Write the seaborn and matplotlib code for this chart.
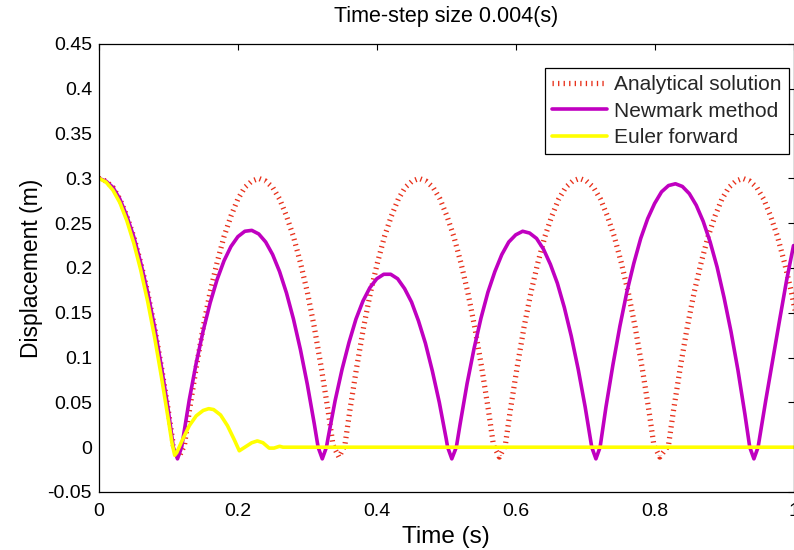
import matplotlib
matplotlib.use("Agg")
import matplotlib.pyplot as plt
import seaborn as sns
import pandas as pd

# ---------------- data ----------------
title = "Time-step size 0.004(s)"
x_label = "Time (s)"
y_label = "Displacement (m)"
series_names = ["Analytical solution", "Newmark method", "Euler forward"]

x_ticks = [0, 0.2, 0.4, 0.6, 0.8, 1.0]
x_tick_labels = ["0", "0.2", "0.4", "0.6", "0.8", "1"]
y_ticks = [-0.05, 0, 0.05, 0.1, 0.15, 0.2, 0.25, 0.3, 0.35, 0.4, 0.45]
y_tick_labels = ["-0.05", "0", "0.05", "0.1", "0.15", "0.2", "0.25", "0.3", "0.35", "0.4", "0.45"]

# Analytical solution (red dotted)
t_analytical = [
    0.000, 0.010, 0.020, 0.030, 0.040, 0.050, 0.060, 0.070, 0.080, 0.090, 0.100, 0.107, 0.115,
    0.123, 0.130, 0.140, 0.150, 0.160, 0.170, 0.180, 0.190, 0.200, 0.210, 0.220, 0.230,
    0.240, 0.250, 0.260, 0.270, 0.280, 0.290, 0.300, 0.310, 0.320, 0.330, 0.337, 0.3455,
    0.354, 0.361, 0.371, 0.381, 0.391, 0.401, 0.411, 0.421, 0.431, 0.441, 0.451, 0.461,
    0.471, 0.481, 0.491, 0.501, 0.511, 0.521, 0.531, 0.541, 0.551, 0.561, 0.568, 0.5765,
    0.585, 0.592, 0.602, 0.612, 0.622, 0.632, 0.642, 0.652, 0.662, 0.672, 0.682, 0.692,
    0.702, 0.712, 0.722, 0.732, 0.742, 0.752, 0.762, 0.772, 0.782, 0.792, 0.799, 0.8075,
    0.820, 0.827, 0.837, 0.847, 0.857, 0.867, 0.877, 0.887, 0.897, 0.907, 0.917, 0.927,
    0.937, 0.947, 0.957, 0.967, 0.977, 0.987, 0.997, 1.007,
]
y_analytical = [
    0.300, 0.297, 0.290, 0.277, 0.258, 0.235, 0.206, 0.173, 0.134, 0.089, 0.040, 0.002, -0.011,
    0.002, 0.040, 0.089, 0.134, 0.173, 0.206, 0.235, 0.258, 0.277, 0.290, 0.297, 0.300,
    0.297, 0.290, 0.277, 0.258, 0.235, 0.206, 0.173, 0.134, 0.089, 0.040, 0.002, -0.011,
    0.002, 0.040, 0.089, 0.134, 0.173, 0.206, 0.235, 0.258, 0.277, 0.290, 0.297, 0.300,
    0.297, 0.290, 0.277, 0.258, 0.235, 0.206, 0.173, 0.134, 0.089, 0.040, 0.002, -0.011,
    0.002, 0.040, 0.089, 0.134, 0.173, 0.206, 0.235, 0.258, 0.277, 0.290, 0.297, 0.300,
    0.297, 0.290, 0.277, 0.258, 0.235, 0.206, 0.173, 0.134, 0.089, 0.040, 0.002, -0.011,
    0.002, 0.040, 0.089, 0.134, 0.173, 0.206, 0.235, 0.258, 0.277, 0.290, 0.297, 0.300,
    0.297, 0.290, 0.277, 0.258, 0.235, 0.206, 0.173, 0.134,
]

# Newmark method (magenta solid)
t_newmark = [
    0.000, 0.010, 0.020, 0.030, 0.040, 0.050, 0.060, 0.070, 0.080, 0.090, 0.100, 0.107, 0.113,
    0.119, 0.130, 0.140, 0.150, 0.160, 0.170, 0.180, 0.190, 0.200, 0.210, 0.220, 0.230,
    0.240, 0.250, 0.260, 0.270, 0.280, 0.290, 0.300, 0.310, 0.3155, 0.3215,
    0.3275, 0.330, 0.340, 0.350, 0.360, 0.370, 0.380, 0.390, 0.400, 0.410, 0.420, 0.430,
    0.440, 0.450, 0.460, 0.470, 0.480, 0.490, 0.500, 0.502, 0.508,
    0.5145, 0.520, 0.530, 0.540, 0.550, 0.560, 0.570, 0.580, 0.590, 0.600, 0.610, 0.620,
    0.630, 0.640, 0.650, 0.660, 0.670, 0.680, 0.690, 0.700, 0.7095, 0.7155,
    0.7215, 0.730, 0.740, 0.750, 0.760, 0.770, 0.780, 0.790, 0.800, 0.810, 0.820, 0.830,
    0.840, 0.850, 0.860, 0.870, 0.880, 0.890, 0.900, 0.910, 0.920, 0.930, 0.937, 0.943,
    0.949, 0.960, 0.970, 0.980, 0.990, 1.000,
]
y_newmark = [
    0.300, 0.297, 0.290, 0.277, 0.258, 0.235, 0.206, 0.173, 0.134, 0.089, 0.040, 0.000, -0.013,
    0.000, 0.053, 0.094, 0.130, 0.161, 0.187, 0.208, 0.224, 0.235, 0.241, 0.242, 0.238,
    0.229, 0.215, 0.196, 0.172, 0.143, 0.109, 0.070, 0.026, 0.000, -0.013,
    0.000, 0.011, 0.052, 0.087, 0.117, 0.143, 0.163, 0.178, 0.188, 0.193, 0.193, 0.188,
    0.177, 0.162, 0.141, 0.116, 0.085, 0.050, 0.009, 0.000, -0.013,
    0.000, 0.026, 0.071, 0.110, 0.144, 0.173, 0.196, 0.215, 0.229, 0.237, 0.241, 0.239,
    0.233, 0.221, 0.204, 0.183, 0.156, 0.124, 0.087, 0.045, 0.000, -0.013,
    0.000, 0.045, 0.092, 0.135, 0.173, 0.205, 0.233, 0.255, 0.272, 0.285, 0.292, 0.294,
    0.291, 0.283, 0.270, 0.252, 0.229, 0.201, 0.167, 0.129, 0.086, 0.037, 0.000, -0.013,
    0.000, 0.052, 0.097, 0.142, 0.186, 0.225,
]

# Euler forward (yellow solid)
t_euler = [
    0.000, 0.010, 0.020, 0.030, 0.040, 0.050, 0.060, 0.070, 0.080, 0.090, 0.100, 0.105, 0.109,
    0.112, 0.120, 0.130, 0.140, 0.150, 0.158, 0.165, 0.175, 0.185, 0.195, 0.202,
    0.210, 0.220, 0.228, 0.236, 0.245, 0.252, 0.260, 0.265, 1.000,
]
y_euler = [
    0.300, 0.296, 0.287, 0.273, 0.253, 0.228, 0.198, 0.163, 0.123, 0.078, 0.030, 0.005, -0.009,
    -0.006, 0.008, 0.024, 0.035, 0.041, 0.043, 0.042, 0.036, 0.024, 0.008, -0.004,
    0.000, 0.005, 0.007, 0.005, -0.001, -0.001, 0.001, 0.000, 0.000,
]

# ---------------- figure ----------------
sns.set_theme(style="white")
plt.rcParams["font.family"] = ["Liberation Sans", "DejaVu Sans"]

fig = plt.figure(figsize=(7.94, 5.50), dpi=100)
ax = fig.add_axes([99 / 794, 1 - 492 / 550, 694.5 / 794, 448 / 550])

df_a = pd.DataFrame({"t": t_analytical, "y": y_analytical})
df_n = pd.DataFrame({"t": t_newmark, "y": y_newmark})
df_e = pd.DataFrame({"t": t_euler, "y": y_euler})

sns.lineplot(data=df_a, x="t", y="y", ax=ax, color="#e8301a", linewidth=3.8,
             linestyle=(0, (0.25, 0.8)), sort=False, estimator=None,
             label=series_names[0])
sns.lineplot(data=df_n, x="t", y="y", ax=ax, color="#c000c0", linewidth=2.6,
             sort=False, estimator=None, label=series_names[1])
sns.lineplot(data=df_e, x="t", y="y", ax=ax, color="#ffff00", linewidth=2.6,
             sort=False, estimator=None, label=series_names[2])

ax.set_xlim(0, 1.0)
ax.set_ylim(-0.05, 0.45)
ax.set_xticks(x_ticks)
ax.set_xticklabels(x_tick_labels)
ax.set_yticks(y_ticks)
ax.set_yticklabels(y_tick_labels)
ax.tick_params(direction="in", length=4, width=0.8, top=True, right=True,
               labelsize=14, colors="black")
ax.tick_params(axis="x", pad=8)
ax.tick_params(axis="y", pad=5)
for s in ax.spines.values():
    s.set_color("black")
    s.set_linewidth(0.9)

ax.set_xlabel(x_label, fontsize=17.5, labelpad=4, color="black")
ax.set_ylabel(y_label, fontsize=16.5, labelpad=3, color="black")
ax.set_title(title, fontsize=15.5, pad=16, color="black")

leg = ax.legend(loc="upper right", bbox_to_anchor=(0.993, 0.946), fontsize=15,
                frameon=True, fancybox=False, shadow=False, framealpha=1,
                edgecolor="black", handlelength=2.6, handletextpad=0.35,
                borderpad=0.35, labelspacing=0.35, borderaxespad=0)
leg.get_frame().set_linewidth(0.9)

fig.savefig("out.png", dpi=100, facecolor="white")
